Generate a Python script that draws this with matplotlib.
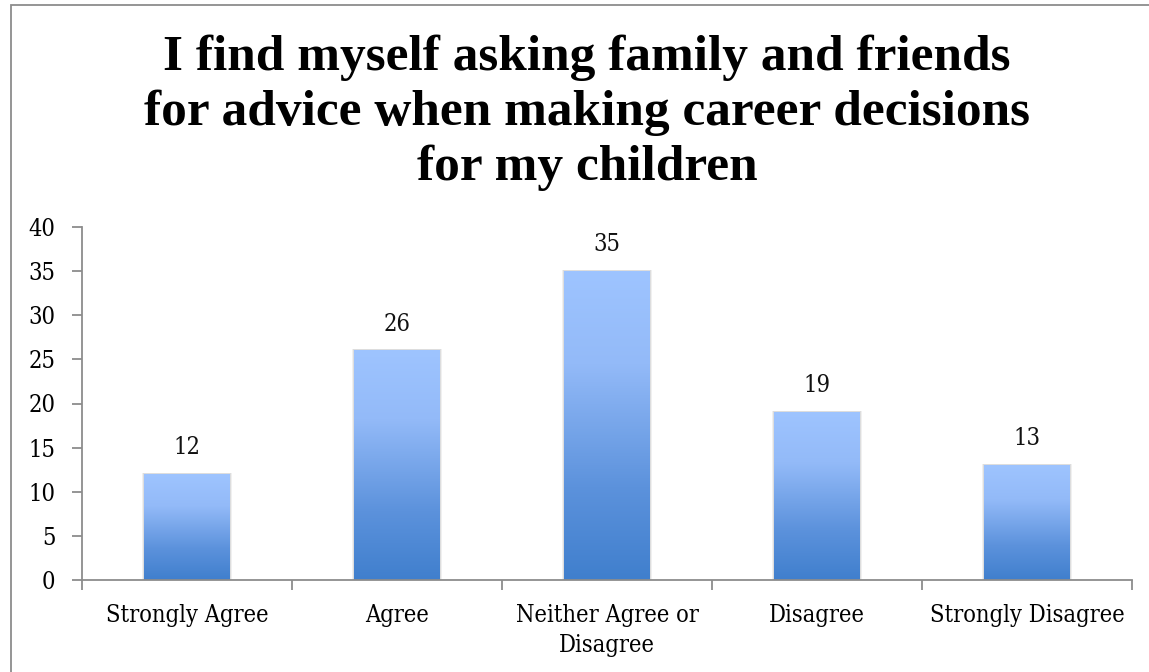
import numpy as np
import matplotlib
matplotlib.use('Agg')
import matplotlib.pyplot as plt
from matplotlib.patches import Rectangle
from matplotlib.colors import LinearSegmentedColormap

categories = ['Strongly Agree', 'Agree', 'Neither Agree or\nDisagree', 'Disagree', 'Strongly Disagree']
counts = [12, 26, 35, 19, 13]
yticks = [0, 5, 10, 15, 20, 25, 30, 35, 40]
title = 'I find myself asking family and friends\nfor advice when making career decisions\nfor my children'

serif = 'DejaVu Serif'
grey = '#8c8c8c'
lab = dict(fontsize=17, family=serif, stretch='condensed')

# light blue at the top of each bar, darker blue at the base
bar_cmap = LinearSegmentedColormap.from_list('bar', [
    (0.0, (64/255, 127/255, 205/255)),
    (0.3, (92/255, 146/255, 220/255)),
    (0.7, (147/255, 186/255, 248/255)),
    (1.0, (158/255, 196/255, 255/255)),
])

fig = plt.figure(figsize=(11.49, 6.72), dpi=100)
ax = fig.add_axes([82/1149, 1 - 580/672, 1050/1149, 353/672])

x = np.arange(len(categories))
width = 0.405
grad = np.linspace(0, 1, 256).reshape(-1, 1)
for xi, v in zip(x, counts):
    # soft shadow around the bar
    for k, a in [(0.012, 0.06), (0.006, 0.08)]:
        ax.add_patch(Rectangle((xi - width/2 - k, 0), width + 2*k, v + 0.12,
                               fc='#000000', alpha=a, lw=0, zorder=1))
    ax.imshow(grad, cmap=bar_cmap, aspect='auto', origin='lower',
              extent=(xi - width/2, xi + width/2, 0, v), zorder=2)
    ax.text(xi, v + 1.7, str(v), ha='center', va='bottom', color='#111111', **lab)

ax.set_xlim(-0.5, len(categories) - 0.5)
ax.set_ylim(0, 40)
ax.set_yticks(yticks)
ax.set_yticklabels([str(t) for t in yticks], **lab)
ax.set_xticks(x)
ax.set_xticklabels(categories, linespacing=1.4, **lab)
ax.tick_params(axis='x', length=0, pad=17)
ax.tick_params(axis='y', length=7, width=1.3, color=grey, pad=12)

# category boundary marks below the axis
ax.set_xticks(np.arange(-0.5, len(categories)), minor=True)
ax.tick_params(axis='x', which='minor', length=7, width=1.3, color=grey, direction='out')

for s in ['top', 'right']:
    ax.spines[s].set_visible(False)
for s in ['left', 'bottom']:
    ax.spines[s].set_color(grey)
    ax.spines[s].set_linewidth(1.3)

fig.text(587/1149, 1 - 35/672, title, ha='center', va='top',
         fontsize=37, fontweight='bold', family='Liberation Serif', linespacing=1.23)

fig.add_artist(Rectangle((11/1149, -0.1), 1.0, (667/672) + 0.1,
                         transform=fig.transFigure, fill=False, ec=grey, lw=1.3))

fig.savefig('out.png', dpi=100)
